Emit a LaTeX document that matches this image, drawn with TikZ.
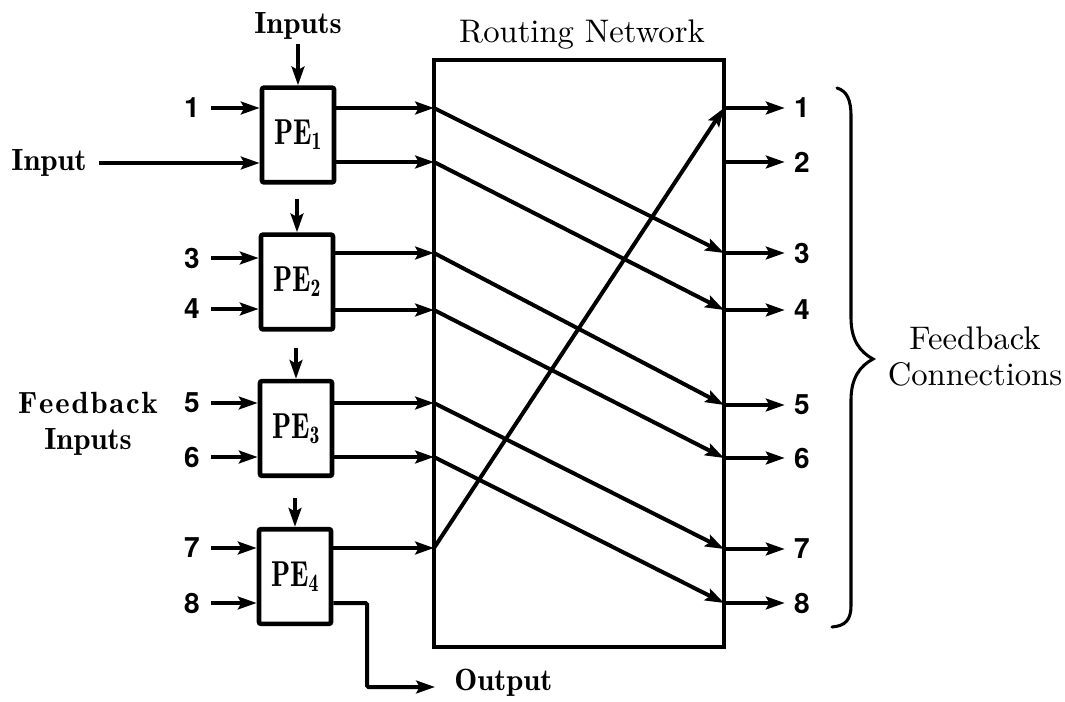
\documentclass[tikz,border=0pt]{standalone}
\usepackage{fontspec}
\usepackage{graphicx}
\usetikzlibrary{arrows.meta}
\newfontfamily\numfont{TeX Gyre Heros}
% ten-point Latin Modern, magnified, for the lighter captions
\newcommand{\bigcaption}[1]{{\fontsize{10}{11.1}\selectfont\scalebox{2.45}{\begin{tabular}{@{}c@{}}#1\end{tabular}}}}
% condensed processing element label
\newcommand{\pelabel}[1]{\scalebox{0.78}[1]{PE\textsubscript{#1}}}
% one drawing unit = one pixel of a 1065 x 702 sheet, y downwards
\begin{document}
\begin{tikzpicture}[x=0.75pt,y=-0.75pt,
  wire/.style={line width=3pt,-{Stealth[length=14pt,width=9.5pt,inset=2.5pt]}},
  pebox/.style={draw,line width=3.5pt,rounded corners=1.5pt,minimum width=54pt,
    minimum height=71pt,inner sep=0pt,font=\fontseries{b}\fontsize{27}{30}\selectfont},
  netbox/.style={draw,line width=3.6pt,minimum width=217.5pt,minimum height=440.25pt,inner sep=0pt},
  numleft/.style={inner sep=0pt,minimum width=28.5pt,font=\numfont\bfseries\fontsize{21}{24}\selectfont},
  numright/.style={inner sep=0pt,minimum width=25.5pt,font=\numfont\bfseries\fontsize{21}{24}\selectfont},
  boldlbl/.style={inner sep=0pt,align=center,font=\fontseries{b}\fontsize{23}{27}\selectfont},
  plainlbl/.style={inner sep=0pt},
  bracepath/.style={line width=2.3pt,line cap=round}
]
\useasboundingbox[fill=white] (0,0) rectangle (1065,702);

% processing elements
\node[pebox] (pe1) at (298,135) {\pelabel{1}};
\node[pebox] (pe2) at (297,282) {\pelabel{2}};
\node[pebox] (pe3) at (296,428.5) {\pelabel{3}};
\node[pebox] (pe4) at (295,576.5) {\pelabel{4}};

% routing network
\node[netbox] (rn) at (579,353.5) {};
\node[plainlbl] (rnlbl) at (582,35) {\bigcaption{Routing Network}};

% titles
\node[boldlbl] (inputs) at (298,26) {Inputs};
\node[boldlbl] (inp) at (49,163) {Input};
\node[boldlbl] (fbin) at (88,424) {F\kern1.4pt e\kern1.4pt e\kern1.4pt d\kern1.4pt b\kern1.4pt a\kern1.4pt c\kern1.4pt k\\Inputs};
\node[plainlbl] (fbcon) at (975,360) {\bigcaption{Feedback\\Connections}};
\node[boldlbl,anchor=west] (outlbl) at (454,683) {Output};

% numbered feedback inputs on the left
\foreach \n/\y in {1/108,3/258,4/309,5/403,6/457,7/548,8/603}
  \node[numleft] (l\n) at (192,\y) {\n};

% numbered feedback outputs on the right
\foreach \n/\y in {1/108,2/162,3/253,4/310,5/405,6/458,7/549,8/603}{
  \node[numright] (o\n) at (802,\y) {\n};
  \coordinate (ro\n) at (724,\y);
}

% entry points on the left side of the routing network
\foreach \n/\y in {1/108,2/162,3/253,4/310,5/403,6/457,7/548}
  \coordinate (ri\n) at (434,\y);

% external inputs
\draw[wire,shorten <=3pt] (inputs.south) -- (pe1.north);
\draw[wire,shorten <=9pt] (inp.east) -- (pe1.west |- inp);
\foreach \n/\p in {1/1,3/2,4/2,5/3,6/3,7/4,8/4}
  \draw[wire] (l\n.east) -- (pe\p.west |- l\n);

% chain arrows between processing elements
\coordinate (d2) at (297,199);
\coordinate (d3) at (296,348);
\coordinate (d4) at (295,498);
\draw[wire] (d2) -- (pe2.north);
\draw[wire] (d3) -- (pe3.north);
\draw[wire] (d4) -- (pe4.north);

% processing element outputs into the routing network
\foreach \n/\p in {1/1,2/1,3/2,4/2,5/3,6/3,7/4}
  \draw[wire] (pe\p.east |- ri\n) -- (ri\n);

% routes through the network
\foreach \a/\b in {1/3,2/4,3/5,4/6,5/7,6/8,7/1}
  \draw[wire] (ri\a) -- (ro\b);

% network outputs
\foreach \n in {1,...,8}
  \draw[wire] (ro\n) -- (o\n.west);

% final output
\coordinate (bend) at (367,687);
\coordinate (oend) at (435,687);
\draw[wire,rounded corners=1pt] (pe4.east |- l8) -| (bend) -- (oend);

% brace grouping the feedback connections
\draw[bracepath] (837,88) .. controls (847,91) and (851,100) .. (851,116)
  -- (851,318) .. controls (851,340) and (860,352) .. (873,359)
  .. controls (860,366) and (851,378) .. (851,400)
  -- (851,606) .. controls (851,620) and (845,626) .. (832,627);
\end{tikzpicture}
\end{document}
